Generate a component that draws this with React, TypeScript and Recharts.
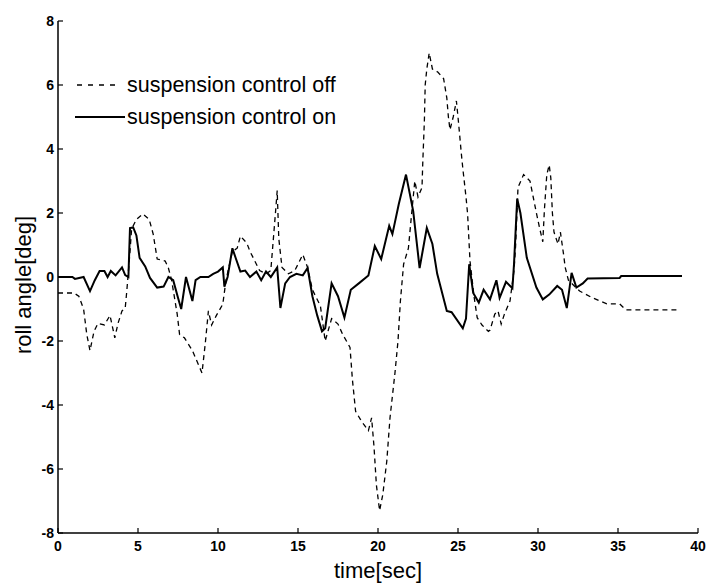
import React from 'react';
import { LineChart, Line, XAxis, YAxis, Label } from 'recharts';

// control ON (solid)
const onTime = [0, 0.9, 1.06, 1.6, 2.0, 2.3, 2.6, 2.9, 3.1, 3.3, 3.6, 4.0, 4.2, 4.4, 4.5, 4.7, 4.9, 5.1, 5.45, 5.75, 6.2, 6.6, 6.9, 7.2, 7.5, 7.7, 8.0, 8.4, 8.6, 8.9, 9.4, 9.7, 10.0, 10.3, 10.4, 10.6, 10.9, 11.1, 11.4, 11.7, 12.0, 12.4, 12.7, 13.0, 13.3, 13.7, 13.9, 14.2, 14.5, 14.9, 15.3, 15.6, 15.9, 16.2, 16.5, 16.7, 17.1, 17.5, 17.9, 18.3, 18.8, 19.4, 19.8, 20.2, 20.7, 20.9, 21.3, 21.75, 22.2, 22.6, 23.05, 23.4, 23.7, 24.3, 24.6, 25.3, 25.5, 25.7, 25.95, 26.3, 26.6, 27.0, 27.4, 27.6, 28.0, 28.4, 28.5, 28.7, 28.9, 29.3, 29.9, 30.3, 30.7, 31.2, 31.5, 31.8, 32.1, 32.4, 32.8, 33.1, 35.1, 35.2, 39.0];
const onValues = [0, 0, -0.06, 0, -0.44, -0.1, 0.19, 0.19, 0, 0.19, 0.05, 0.3, 0.06, 0, 1.53, 1.55, 1.3, 0.6, 0.33, -0.03, -0.33, -0.3, 0, -0.1, -0.65, -1.0, 0, -0.75, -0.1, 0, 0, 0.1, 0.17, 0.3, -0.3, 0, 0.9, 0.6, 0.17, 0.2, 0, 0.17, -0.1, 0.17, 0, 0.3, -0.97, -0.2, 0, 0.1, 0.05, 0.28, -0.6, -1.2, -1.7, -1.6, -0.2, -0.6, -1.27, -0.4, -0.2, 0.05, 0.97, 0.56, 1.6, 1.34, 2.28, 3.2, 2.06, 0.28, 1.53, 1.03, 0.1, -1.06, -1.1, -1.6, -1.3, 0.4, -0.5, -0.8, -0.4, -0.7, -0.1, -0.65, -0.15, -0.35, 0.4, 2.45, 2.0, 0.6, -0.33, -0.7, -0.55, -0.28, -0.4, -0.97, 0.13, -0.33, -0.2, -0.05, -0.03, 0.03, 0.03];

// control OFF (dashed)
const offTime = [0, 1.0, 1.3, 1.6, 1.8, 2.0, 2.25, 2.5, 2.9, 3.25, 3.55, 3.75, 4.0, 4.2, 4.3, 4.5, 4.6, 4.9, 5.3, 5.7, 5.95, 6.2, 6.7, 6.9, 7.1, 7.45, 7.6, 7.9, 8.4, 9.0, 9.2, 9.4, 9.6, 9.9, 10.3, 10.5, 10.9, 11.2, 11.4, 11.8, 12.0, 12.3, 12.6, 13.0, 13.3, 13.6, 13.7, 13.8, 14.0, 14.4, 14.8, 15.3, 15.6, 15.9, 16.4, 16.7, 17.1, 17.5, 17.8, 18.25, 18.4, 18.6, 18.9, 19.1, 19.4, 19.6, 19.75, 19.9, 20.1, 20.3, 20.55, 20.75, 21.06, 21.25, 21.4, 21.6, 21.9, 22.1, 22.3, 22.5, 22.75, 22.8, 22.9, 22.95, 23.05, 23.2, 23.4, 23.75, 24.1, 24.3, 24.4, 24.5, 24.7, 24.9, 25.0, 25.1, 25.2, 25.3, 25.5, 25.6, 25.75, 26.0, 26.2, 26.5, 26.9, 27.0, 27.3, 27.5, 27.7, 27.9, 28.25, 28.5, 28.6, 28.75, 29.1, 29.5, 29.7, 29.9, 30.1, 30.3, 30.4, 30.55, 30.7, 30.8, 30.9, 31.0, 31.25, 31.4, 31.6, 31.7, 31.9, 32.6, 33.4, 34.3, 35.1, 35.5, 38.9];
const offValues = [-0.5, -0.5, -0.6, -1.0, -1.8, -2.3, -1.7, -1.45, -1.5, -1.2, -1.9, -1.45, -1.06, -0.97, -0.44, 0.8, 1.5, 1.8, 1.97, 1.8, 1.34, 0.56, 0.5, 0.28, -0.1, -1.16, -1.8, -1.9, -2.3, -3.0, -2.1, -1.06, -1.5, -1.2, -0.85, -0.1, 0.8, 0.9, 1.28, 1.06, 0.8, 0.5, 0.2, 0.1, 0.2, 2.06, 2.7, 1.2, 0.3, 0.1, 0.2, 0.7, 0.3, -0.4, -0.9, -2.0, -1.3, -1.47, -1.8, -2.2, -3.2, -4.2, -4.45, -4.6, -4.8, -4.4, -5.3, -6.5, -7.3, -6.8, -5.75, -4.4, -3.0, -2.0, -0.75, 0.4, 0.9, 1.97, 3.0, 2.5, 2.8, 3.6, 4.9, 6.0, 6.5, 7.0, 6.5, 6.4, 6.2, 5.6, 5.0, 4.6, 5.0, 5.5, 5.0, 4.46, 3.9, 3.4, 2.5, 1.97, 0.5, -0.6, -1.27, -1.5, -1.7, -1.66, -1.16, -1.06, -1.47, -1.16, -0.75, 0.2, 0.97, 2.8, 3.2, 3.0, 2.5, 2.0, 1.53, 1.1, 2.1, 3.2, 3.5, 3.1, 2.0, 1.4, 1.03, 1.4, 0.7, 0.3, -0.1, -0.44, -0.65, -0.84, -0.84, -1.03, -1.03];

const xTicks = [0, 5, 10, 15, 20, 25, 30, 35, 40];
const yTicks = [-8, -6, -4, -2, 0, 2, 4, 6, 8];
const seriesNames = ['suspension control off', 'suspension control on'];

const onData = onTime.map((t, i) => ({ t, v: onValues[i] }));
const offData = offTime.map((t, i) => ({ t, v: offValues[i] }));

const FONT = '"Liberation Sans", Arial, Helvetica, sans-serif';

const tickStyle = { fill: '#000', fontSize: 14, fontWeight: 700, fontFamily: FONT };

const LegendBox = () => (
  <div style={{ position: 'absolute', left: 67, top: 61, fontFamily: FONT, fontSize: 21.5, color: '#000', lineHeight: '32px', pointerEvents: 'none' }}>
    <div style={{ display: 'flex', alignItems: 'center', height: 32, whiteSpace: 'nowrap' }}>
      <svg width={50} height={10} style={{ marginRight: 2 }}>
        <line x1={2} y1={5} x2={44} y2={5} stroke="#000" strokeWidth={1.3} strokeDasharray="5 6" />
      </svg>
      <span>{seriesNames[0]}</span>
    </div>
    <div style={{ display: 'flex', alignItems: 'center', height: 32, whiteSpace: 'nowrap' }}>
      <svg width={50} height={10} style={{ marginRight: 2 }}>
        <line x1={0} y1={5} x2={50} y2={5} stroke="#000" strokeWidth={2} />
      </svg>
      <span>{seriesNames[1]}</span>
    </div>
  </div>
);

export default function App() {
  return (
    <div style={{ position: 'relative', width: 716, height: 575, background: '#fff' }}>
      <LineChart width={716} height={575} margin={{ top: 13, right: 26, left: 0, bottom: 0 }}>
        <XAxis
          type="number"
          dataKey="t"
          domain={[0, 40]}
          ticks={xTicks}
          allowDataOverflow
          height={50}
          tickSize={-5}
          tickMargin={13}
          tick={tickStyle}
          axisLine={{ stroke: '#000', strokeWidth: 1.5 }}
          tickLine={{ stroke: '#000', strokeWidth: 1.2 }}
        >
          <Label
            content={(props: any) => {
              const vb = props.viewBox || {};
              const cx = vb.x + vb.width / 2;
              const cy = vb.y + 37;
              return (
                <text x={cx} y={cy} textAnchor="middle" dominantBaseline="central" fontFamily={FONT} fontSize={22} fill="#000">
                  time[sec]
                </text>
              );
            }}
          />
        </XAxis>
        <YAxis
          type="number"
          domain={[-8, 8]}
          ticks={yTicks}
          allowDataOverflow
          width={50}
          tickSize={-5}
          tickMargin={9}
          tick={tickStyle}
          axisLine={{ stroke: '#000', strokeWidth: 1.5 }}
          tickLine={{ stroke: '#000', strokeWidth: 1.2 }}
        >
          <Label
            content={(props: any) => {
              const vb = props.viewBox || {};
              const cx = vb.x + 15;
              const cy = vb.y + vb.height / 2 + 8;
              return (
                <text x={cx} y={cy} textAnchor="middle" dominantBaseline="central" transform={`rotate(-90 ${cx} ${cy})`} fontFamily={FONT} fontSize={22} fill="#000">
                  roll angle[deg]
                </text>
              );
            }}
          />
        </YAxis>
        <Line
          data={offData}
          dataKey="v"
          name={seriesNames[0]}
          type="linear"
          stroke="#000"
          strokeWidth={1.3}
          strokeDasharray="5 4"
          dot={false}
          isAnimationActive={false}
        />
        <Line
          data={onData}
          dataKey="v"
          name={seriesNames[1]}
          type="linear"
          stroke="#000"
          strokeWidth={2}
          dot={false}
          isAnimationActive={false}
        />
      </LineChart>
      <LegendBox />
    </div>
  );
}
